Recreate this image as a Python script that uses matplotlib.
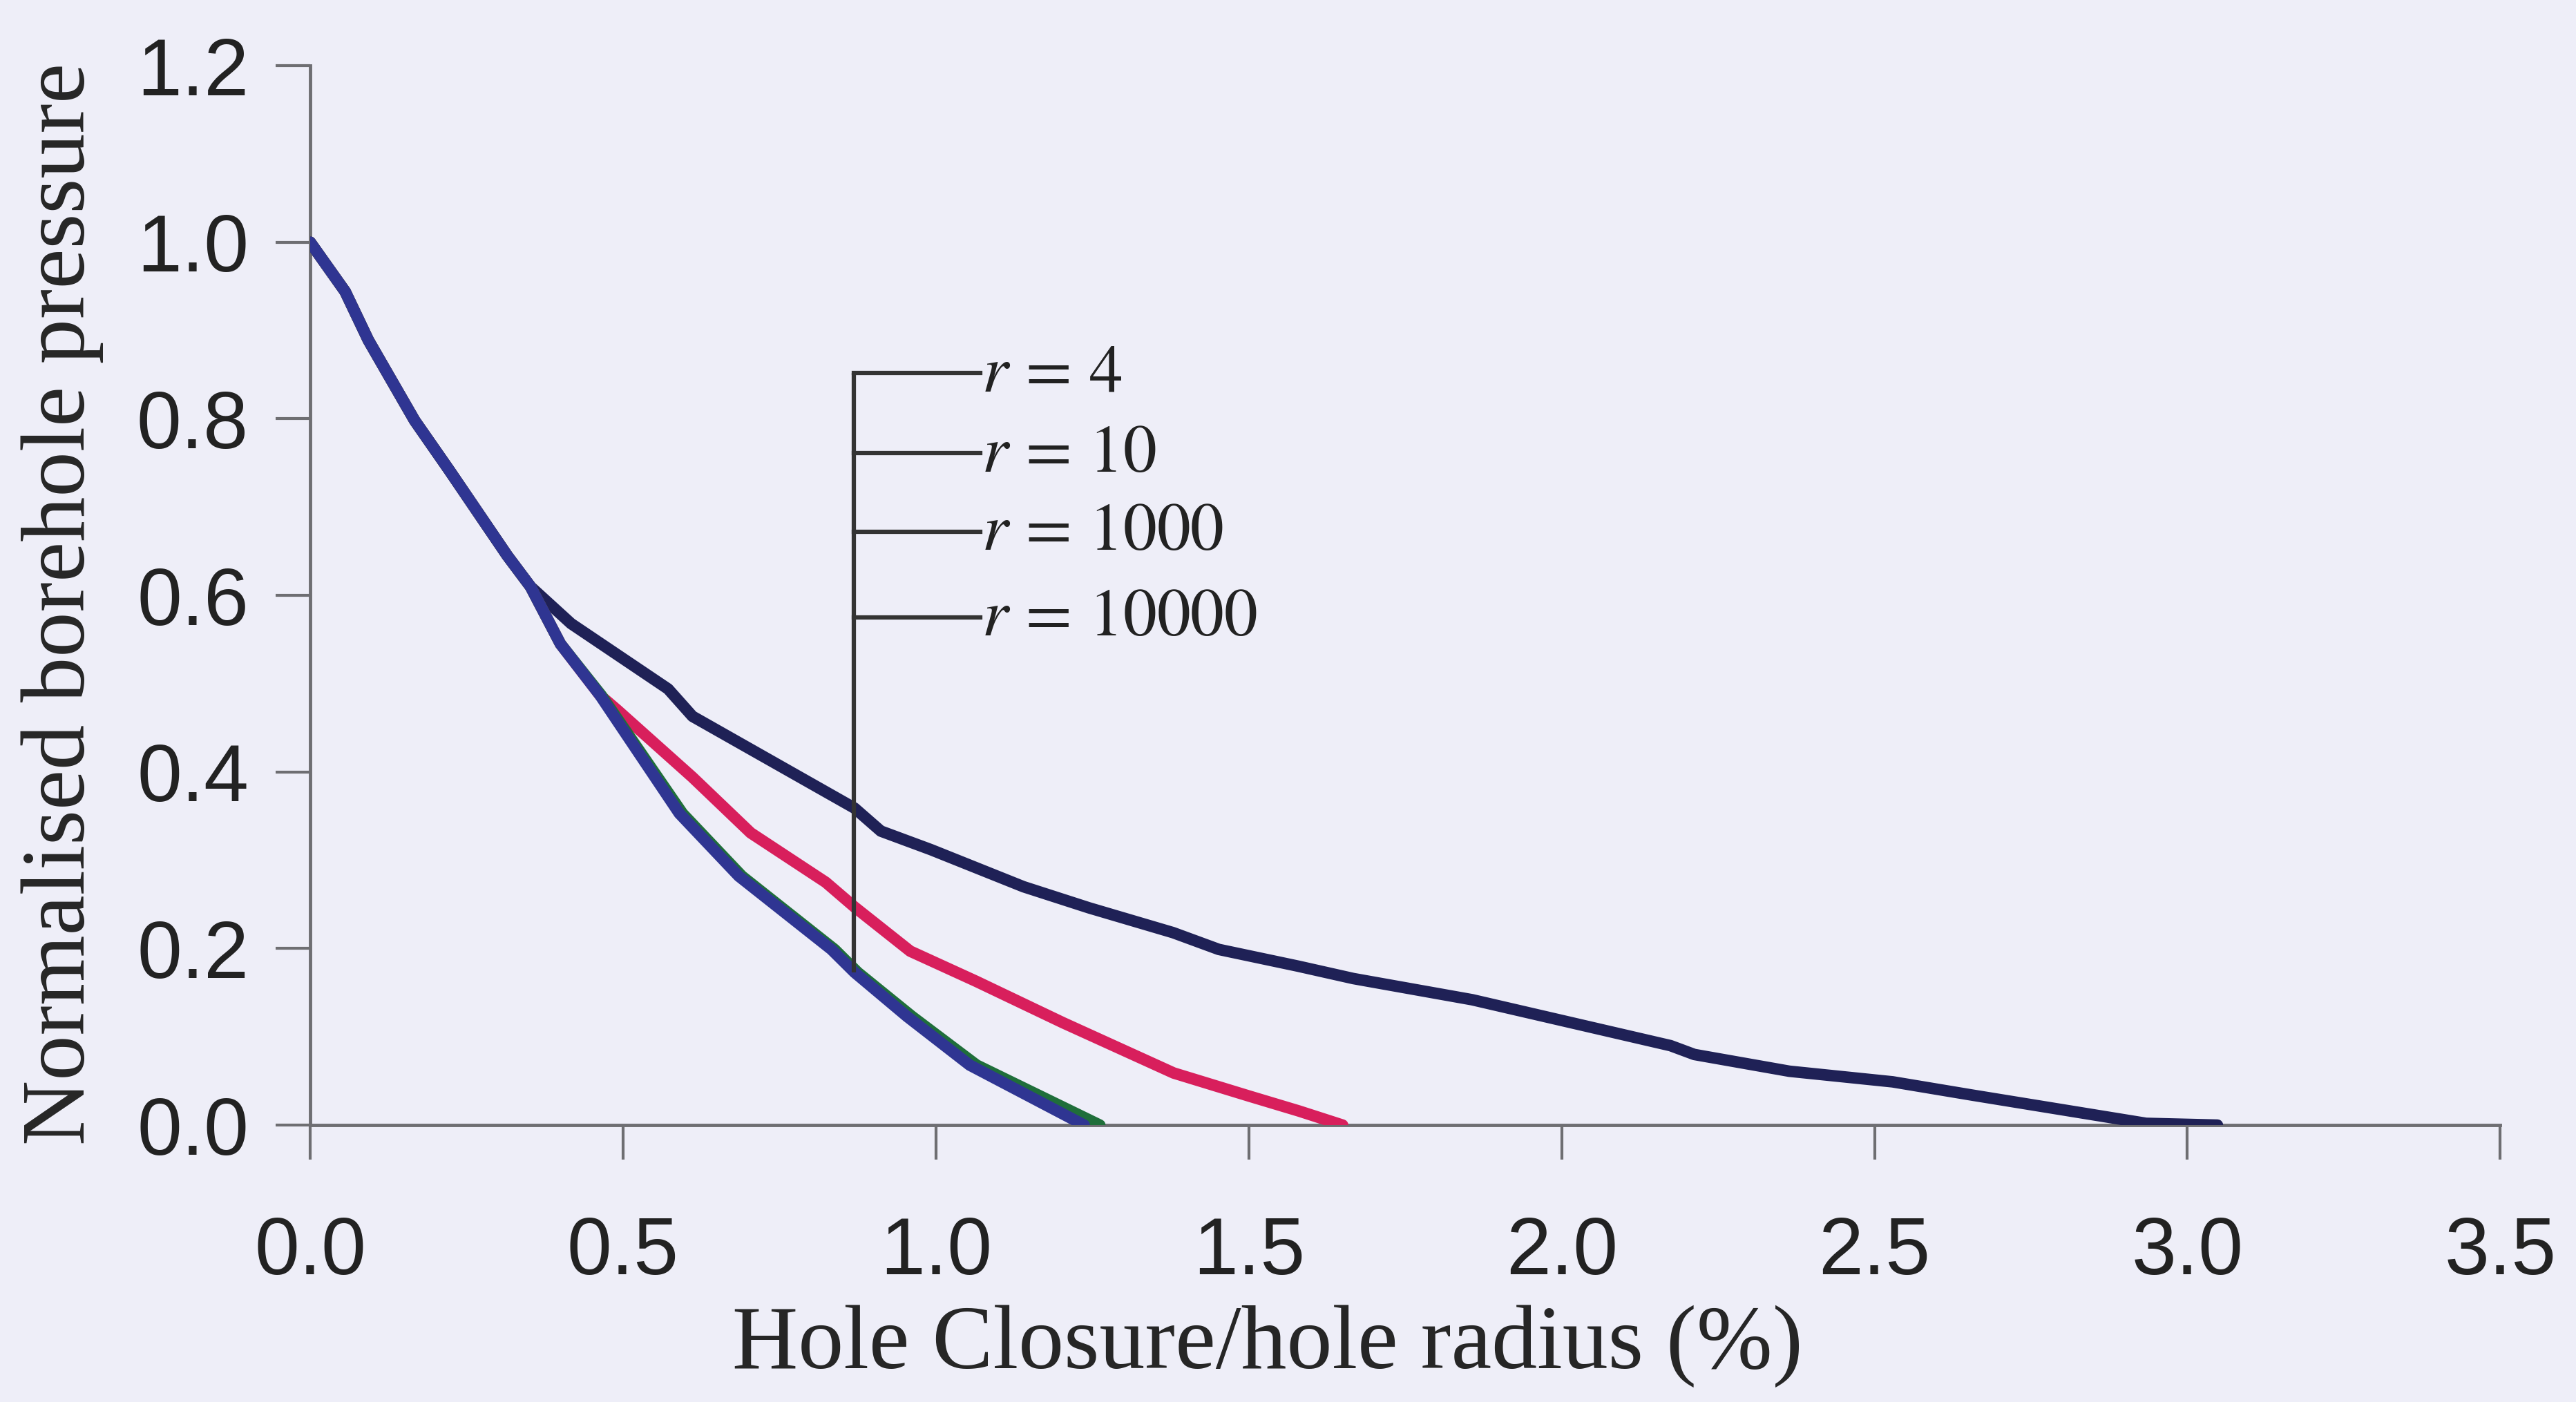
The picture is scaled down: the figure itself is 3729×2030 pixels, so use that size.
import numpy as np
import matplotlib.pyplot as plt

# shared initial part of all curves
x_common = [0.0, 0.056, 0.093, 0.167, 0.222, 0.315, 0.352]
y_common = [1.0, 0.944, 0.889, 0.798, 0.742, 0.645, 0.610]

# r = 4 (blue)
x_r4 = x_common + [0.40, 0.463, 0.59, 0.685, 0.833, 0.870, 0.954, 1.054, 1.237]
y_r4 = y_common + [0.545, 0.487, 0.353, 0.282, 0.199, 0.173, 0.123, 0.068, 0.0]

# r = 10 (green, nearly on top of r = 4)
x_r10 = x_common + [0.40, 0.465, 0.595, 0.69, 0.838, 0.875, 0.962, 1.065, 1.262]
y_r10 = y_common + [0.545, 0.487, 0.353, 0.282, 0.199, 0.173, 0.123, 0.068, 0.0]

# r = 1000 (pink)
x_r1000 = x_common + [0.40, 0.463, 0.491, 0.611, 0.704, 0.824, 0.870, 0.959,
                      1.064, 1.203, 1.38, 1.50, 1.58, 1.65]
y_r1000 = y_common + [0.545, 0.487, 0.470, 0.394, 0.331, 0.275, 0.247, 0.197,
                      0.163, 0.116, 0.059, 0.033, 0.016, 0.0]

# r = 10000 (navy)
x_r10000 = x_common + [0.417, 0.572, 0.611, 0.870, 0.912, 0.992, 1.14, 1.245,
                       1.379, 1.452, 1.579, 1.667, 1.857, 2.174, 2.212, 2.364,
                       2.529, 2.656, 2.934, 3.048]
y_r10000 = y_common + [0.568, 0.494, 0.463, 0.359, 0.333, 0.312, 0.270, 0.246,
                       0.218, 0.199, 0.180, 0.166, 0.142, 0.090, 0.080, 0.061,
                       0.049, 0.034, 0.002, 0.0]

legend_labels = [r'$r\,=\,4$', r'$r\,=\,10$', r'$r\,=\,1000$', r'$r\,=\,10000$']
legend_y = [0.852, 0.761, 0.672, 0.575]
bracket_x = 0.869
bracket_end = 1.071
bracket_bottom = 0.173

xticks = [0.0, 0.5, 1.0, 1.5, 2.0, 2.5, 3.0, 3.5]
yticks = [0.0, 0.2, 0.4, 0.6, 0.8, 1.0, 1.2]

plt.rcParams['mathtext.fontset'] = 'stix'
bg = '#eeeef8'
axis_col = '#6e6e72'

fig = plt.figure(figsize=(37.29, 20.30), dpi=100, facecolor=bg)
ax = fig.add_axes([0.1204, 0.1975, 0.8502, 0.7557])
ax.set_facecolor(bg)

ax.plot(x_r10000, y_r10000, color='#1f2156', lw=12, solid_capstyle='round',
        solid_joinstyle='round', zorder=3)
ax.plot(x_r1000, y_r1000, color='#d81f5c', lw=12, solid_capstyle='round',
        solid_joinstyle='round', zorder=3)
ax.plot(x_r10, y_r10, color='#1f6e3a', lw=12, solid_capstyle='round',
        solid_joinstyle='round', zorder=4)
ax.plot(x_r4, y_r4, color='#2f3592', lw=12, solid_capstyle='round',
        solid_joinstyle='round', zorder=5)

# bracket-style legend
ax.plot([bracket_x, bracket_x], [bracket_bottom, legend_y[0]], color='#333333',
        lw=4.5, zorder=6, solid_capstyle='butt')
for yy, lab in zip(legend_y, legend_labels):
    ax.plot([bracket_x, bracket_end], [yy, yy], color='#333333', lw=4.5, zorder=6)
    ax.text(bracket_end + 0.002, yy, lab, fontsize=70, va='center', ha='left',
            color='#222222', zorder=6)

ax.set_xlim(0, 3.5)
ax.set_ylim(0, 1.2)
ax.set_xticks(xticks)
ax.set_yticks(yticks)
ax.set_xticklabels(['%.1f' % v for v in xticks])
ax.set_yticklabels(['%.1f' % v for v in yticks])

for s in ['top', 'right']:
    ax.spines[s].set_visible(False)
for s in ['left', 'bottom']:
    ax.spines[s].set_color(axis_col)
    ax.spines[s].set_linewidth(3.5)

ax.tick_params(axis='both', direction='out', length=36, width=3, color=axis_col,
               labelsize=84, labelcolor='#222222')
ax.tick_params(axis='x', pad=58)
ax.tick_params(axis='y', pad=28)
for lab in ax.get_xticklabels() + ax.get_yticklabels():
    lab.set_family('Liberation Sans')

ax.text(0.437, -0.209, 'Hole Closure/hole radius (%)', transform=ax.transAxes,
        ha='center', va='center', fontsize=95, family='Liberation Serif', color='#262626')
ax.text(-0.1133, 0.492, 'Normalised borehole pressure', transform=ax.transAxes,
        ha='center', va='center', rotation=90, fontsize=94, family='Liberation Serif',
        color='#262626')

fig.savefig('out.png', dpi=100, facecolor=bg)
